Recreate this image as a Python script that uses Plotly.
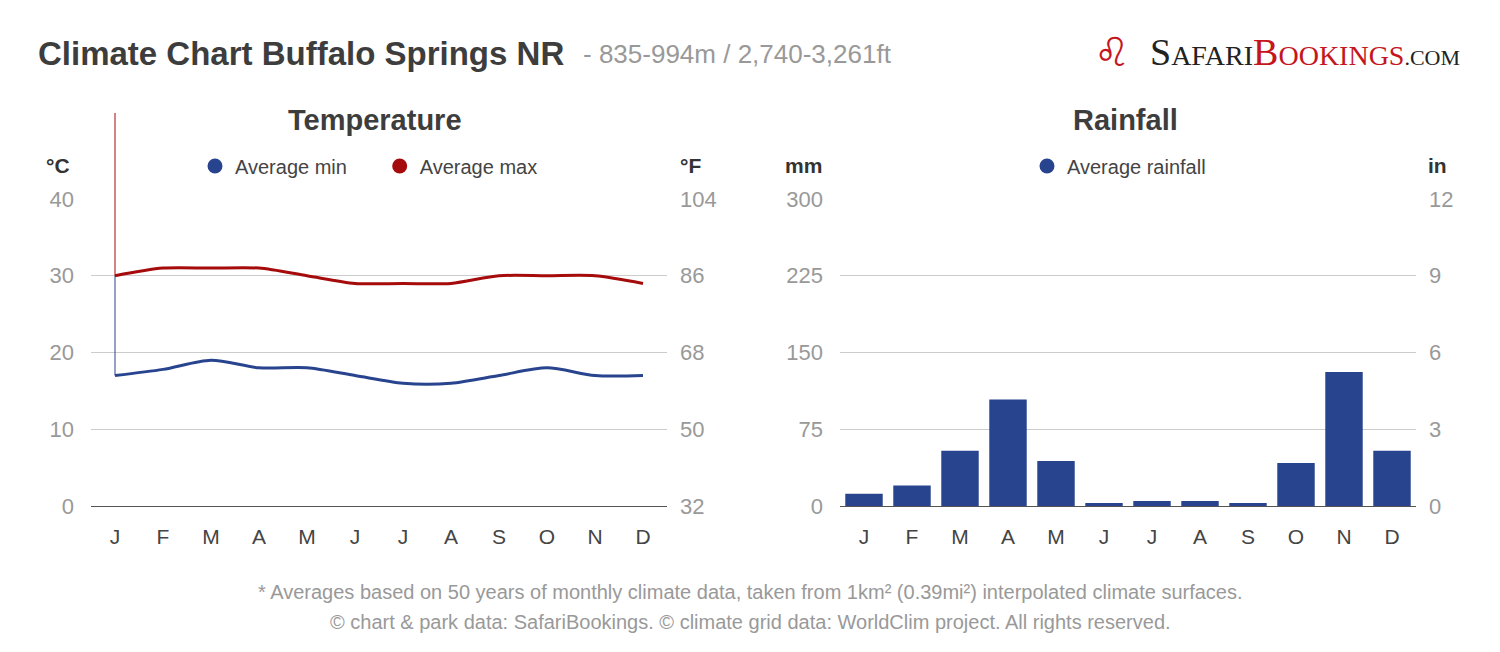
import plotly.graph_objects as go

# monthly averages
months = ["J", "F", "M", "A", "M", "J", "J", "A", "S", "O", "N", "D"]
month_ids = list(range(12))
temp_min = [17, 17.8, 19, 18, 18, 17, 16, 16, 17, 18, 17, 17]
temp_max = [30, 31, 31, 31, 30, 29, 29, 29, 30, 30, 30, 29]
rain_mm = [12, 20, 54, 104, 44, 3, 5, 5, 3, 42, 131, 54]

c_ticks = [0, 10, 20, 30, 40]
f_ticks = [32, 50, 68, 86, 104]
mm_ticks = [0, 75, 150, 225, 300]
in_ticks = [0, 3, 6, 9, 12]

BLUE = "#28448e"
RED = "#a50b0b"
GRID = "#cccccc"
TICK = "#999999"
DARK = "#444444"
FONT = "Liberation Sans"

W, H = 1500, 652
OFF = 8  # page body margin


def px(x):
    return (x - OFF) / W


def py(y):
    return (H - (y - OFF)) / H


# plot areas in pixels
yd = [py(506), py(199)]
xd_left = [px(91), px(667)]
xd_right = [px(840), px(1416)]

fig = go.Figure()

# temperature lines
fig.add_trace(go.Scatter(x=month_ids, y=temp_min, mode="lines", showlegend=False,
                         line=dict(color=BLUE, width=3, shape="spline", smoothing=0.8),
                         xaxis="x", yaxis="y"))
fig.add_trace(go.Scatter(x=month_ids, y=temp_max, mode="lines", showlegend=False,
                         line=dict(color=RED, width=3, shape="spline", smoothing=0.8),
                         xaxis="x", yaxis="y"))
# thin crosshair-like line at January
fig.add_trace(go.Scatter(x=[month_ids[0], month_ids[0]], y=[temp_min[0], temp_max[0]],
                         mode="lines", showlegend=False, line=dict(color=BLUE, width=1),
                         xaxis="x", yaxis="y"))
fig.add_shape(type="line", xref="x", yref="paper", x0=month_ids[0], x1=month_ids[0],
              y0=yd[0] + (temp_max[0] / c_ticks[-1]) * (yd[1] - yd[0]), y1=py(113),
              line=dict(color=RED, width=1))

# legend entries as round markers
fig.add_trace(go.Scatter(x=[None], y=[None], mode="markers", name="Average min     ",
                         marker=dict(color=BLUE, size=15), legend="legend",
                         xaxis="x", yaxis="y"))
fig.add_trace(go.Scatter(x=[None], y=[None], mode="markers", name="Average max",
                         marker=dict(color=RED, size=15), legend="legend",
                         xaxis="x", yaxis="y"))

# rainfall bars
fig.add_trace(go.Bar(x=month_ids, y=rain_mm, marker=dict(color=BLUE, line=dict(width=0)),
                     showlegend=False, xaxis="x2", yaxis="y3"))
fig.add_trace(go.Scatter(x=[None], y=[None], mode="markers", name="Average rainfall",
                         marker=dict(color=BLUE, size=15), legend="legend2",
                         xaxis="x2", yaxis="y3"))

# dummy data on the secondary axes so they render
fig.add_trace(go.Scatter(x=[None], y=[None], showlegend=False, xaxis="x", yaxis="y2"))
fig.add_trace(go.Scatter(x=[None], y=[None], showlegend=False, xaxis="x2", yaxis="y4"))

xcommon = dict(tickmode="array", tickvals=month_ids, ticktext=months, range=[-0.5, 11.5],
               showgrid=False, zeroline=False, showline=True, linecolor="#555555",
               linewidth=1, ticks="", tickfont=dict(size=21, color=DARK, family=FONT),
               ticklabelstandoff=12, fixedrange=True, automargin=False)
ycommon = dict(showgrid=True, gridcolor=GRID, gridwidth=1, zeroline=False, showline=False,
               ticks="", tickfont=dict(size=22, color=TICK, family=FONT), fixedrange=True,
               automargin=False)
y2common = dict(side="right", showgrid=False, zeroline=False, ticks="", ticklabelstandoff=12,
                tickfont=dict(size=22, color=TICK, family=FONT), fixedrange=True,
                automargin=False)

fig.update_layout(
    width=W, height=H,
    margin=dict(l=0, r=0, t=0, b=0, pad=0, autoexpand=False),
    paper_bgcolor="white", plot_bgcolor="white",
    font=dict(family=FONT, color=DARK),
    bargap=0.22,
    xaxis=dict(domain=xd_left, anchor="y", **xcommon),
    yaxis=dict(domain=yd, range=[0, 40], tickvals=c_ticks, anchor="x",
               ticklabelstandoff=16, **ycommon),
    yaxis2=dict(range=[32, 104], tickvals=f_ticks, overlaying="y", anchor="x", **y2common),
    xaxis2=dict(domain=xd_right, anchor="y3", **xcommon),
    yaxis3=dict(domain=yd, range=[0, 300], tickvals=mm_ticks, anchor="x2",
                ticklabelstandoff=16, **ycommon),
    yaxis4=dict(range=[0, 12], tickvals=in_ticks, overlaying="y3", anchor="x2", **y2common),
    legend=dict(orientation="h", x=px(369), xanchor="center", y=py(166),
                yanchor="middle", font=dict(size=20, color=DARK, family=FONT),
                bgcolor="rgba(0,0,0,0)"),
    legend2=dict(orientation="h", x=px(1119), xanchor="center", y=py(166),
                 yanchor="middle", font=dict(size=20, color=DARK, family=FONT),
                 bgcolor="rgba(0,0,0,0)"),
)

ann = []
ann.append(dict(x=px(36), y=py(53), xref="paper", yref="paper", xanchor="left",
                yanchor="middle", showarrow=False,
                text="<b>Climate Chart Buffalo Springs NR</b>",
                font=dict(size=33, color="#3d3d3d", family=FONT)))
ann.append(dict(x=px(581), y=py(54), xref="paper", yref="paper", xanchor="left",
                yanchor="middle", showarrow=False,
                text="- 835-994m / 2,740-3,261ft",
                font=dict(size=26, color="#999999", family=FONT)))
for txt, xc in [("Temperature", 375), ("Rainfall", 1125)]:
    ann.append(dict(x=px(xc), y=py(120), xref="paper", yref="paper", xanchor="center",
                    yanchor="middle", showarrow=False, text="<b>" + txt + "</b>",
                    font=dict(size=29, color="#3d3d3d", family=FONT)))
for txt, xc in [("°C", 58), ("°F", 690), ("mm", 803), ("in", 1437)]:
    ann.append(dict(x=px(xc), y=py(165), xref="paper", yref="paper", xanchor="center",
                    yanchor="middle", showarrow=False, text="<b>" + txt + "</b>",
                    font=dict(size=21, color="#333333", family=FONT)))
ann.append(dict(x=px(750), y=py(592), xref="paper", yref="paper", xanchor="center",
                yanchor="middle", showarrow=False,
                text="* Averages based on 50 years of monthly climate data, taken from 1km² (0.39mi²) interpolated climate surfaces.",
                font=dict(size=20, color="#999999", family=FONT)))
ann.append(dict(x=px(750), y=py(622), xref="paper", yref="paper", xanchor="center",
                yanchor="middle", showarrow=False,
                text="© chart & park data: SafariBookings. © climate grid data: WorldClim project. All rights reserved.",
                font=dict(size=20, color="#999999", family=FONT)))
# logo text
logo = ("<span style='font-size:38px'>S</span>AFARI"
        "<span style='color:#c4161c'><span style='font-size:38px'>B</span>OOKINGS</span>"
        "<span style='font-size:22px'>.COM</span>")
ann.append(dict(x=px(1462), y=py(52), xref="paper", yref="paper", xanchor="right",
                yanchor="middle", showarrow=False, text=logo,
                font=dict(size=28, color="#222222", family="Liberation Serif")))
ann.append(dict(x=px(1112), y=py(52), xref="paper", yref="paper", xanchor="center",
                yanchor="middle", showarrow=False, text="\u264c\ufe0e",
                font=dict(size=40, color="#c4161c", family="DejaVu Sans")))
fig.update_layout(annotations=ann)

fig.write_html("out.html")
